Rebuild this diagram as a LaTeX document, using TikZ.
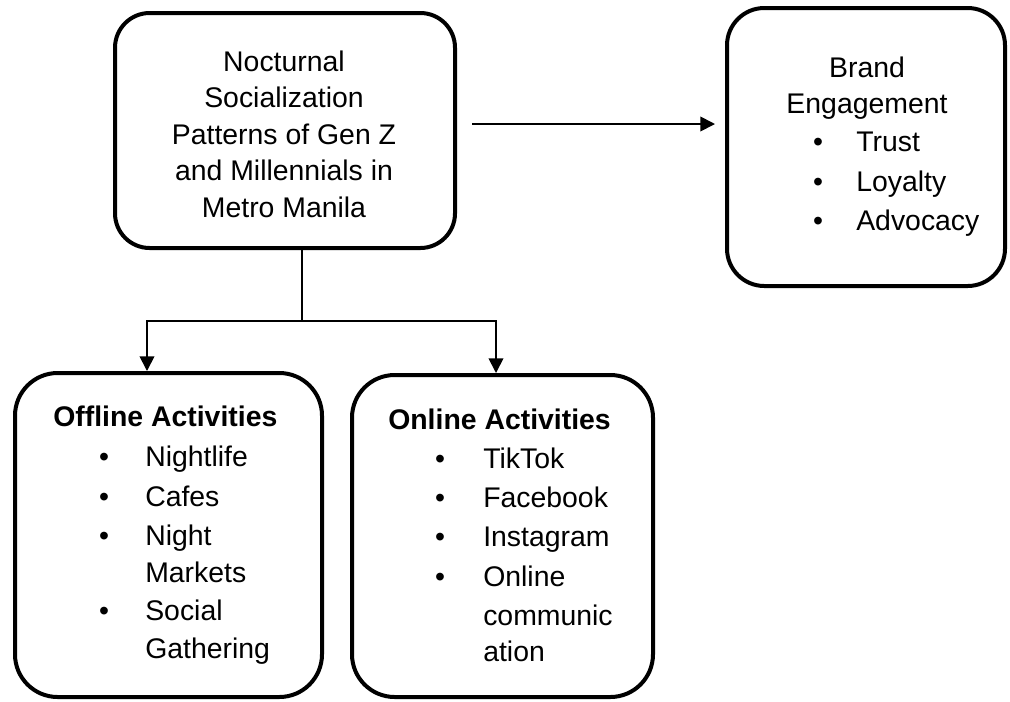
\documentclass[tikz,border=0pt]{standalone}
\usepackage{fontspec}
\setmainfont{Liberation Sans}
\usetikzlibrary{arrows.meta,fit}
\begin{document}
\begin{tikzpicture}[x=0.75pt,y=-0.75pt,
  box/.style={draw, line width=3pt, rounded corners=#1, inner sep=0pt},
  conn/.style={line width=1.3pt},
  arr/.style={conn, -{Triangle[length=11pt,width=11pt]}},
  txt/.style={font=\fontsize{21.3}{27.4}\selectfont, inner sep=0pt},
  itm/.style={txt, anchor=mid west},
  bul/.style={txt, anchor=mid},
]
\useasboundingbox (0,0) rectangle (1010,701);
% boxes
\node[box=26pt, fit={(115,13) (455,248)}] (main) {};
\node[box=28pt, fit={(727,8) (1005,286)}] (brand) {};
\node[box=32pt, fit={(15,373) (322,697)}] (off) {};
\node[box=32pt, fit={(352,375) (653,697)}] (on) {};
% main text
\node[txt, align=center] (mtxt) at (284,134) {Nocturnal\\Socialization\\Patterns of Gen Z\\and Millennials in\\Metro Manila};
% brand text
\node[txt, anchor=mid] (bt1) at (867,74) {Brand};
\node[txt, anchor=mid] (bt2) at (867,110) {Engagement};
\node[bul] (bb1) at (818,148) {•};
\node[itm] (bi1) at (856,148) {Trust};
\node[bul] (bb2) at (818,188) {•};
\node[itm] (bi2) at (856,188) {Loyalty};
\node[bul] (bb3) at (818,227) {•};
\node[itm] (bi3) at (856,227) {Advocacy};
% offline text
\node[txt, anchor=mid west, font=\fontsize{21.3}{27.4}\selectfont\bfseries] (oft) at (53,423) {Offline Activities};
\node[bul] (ob1) at (104,463) {•};
\node[itm] (oi1) at (145,463) {Nightlife};
\node[bul] (ob2) at (104,503) {•};
\node[itm] (oi2) at (145,503) {Cafes};
\node[bul] (ob3) at (104,542) {•};
\node[itm] (oi3) at (145,542) {Night};
\node[itm] (oi3b) at (145,579) {Markets};
\node[bul] (ob4) at (104,617) {•};
\node[itm] (oi4) at (145,617) {Social};
\node[itm] (oi4b) at (145,655) {Gathering};
% online text
\node[txt, anchor=mid west, font=\fontsize{21.3}{27.4}\selectfont\bfseries] (ont) at (388,426) {Online Activities};
\node[bul] (nb1) at (440,465) {•};
\node[itm] (ni1) at (483,465) {TikTok};
\node[bul] (nb2) at (440,504) {•};
\node[itm] (ni2) at (483,504) {Facebook};
\node[bul] (nb3) at (440,543) {•};
\node[itm] (ni3) at (483,543) {Instagram};
\node[bul] (nb4) at (440,583) {•};
\node[itm] (ni4) at (483,583) {Online};
\node[itm] (ni4b) at (483,622) {communic};
\node[itm] (ni4c) at (483,658) {ation};
% connectors
\coordinate (hy) at (0,124);
\draw[arr, shorten <=11.25pt, shorten >=7.5pt] (main.east |- hy) -- (brand.west |- hy);
\coordinate (j) at (302,321);
\coordinate (lx) at (147,0);
\coordinate (rx) at (496,0);
\draw[conn] (main.south -| j) -- (j);
\draw[arr] (j) -| (off.north -| lx);
\draw[arr] (j) -| (on.north -| rx);
\end{tikzpicture}
\end{document}
